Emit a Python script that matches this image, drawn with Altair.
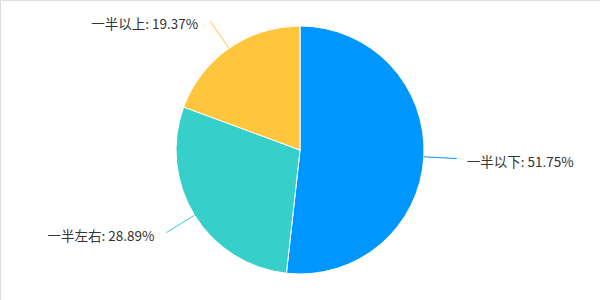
import math
import altair as alt
import pandas as pd

categories = ["一半以下", "一半左右", "一半以上"]
values = [51.75, 28.89, 19.37]
colors = ["#0096FF", "#36CFC9", "#FFC53D"]

W, H = 600, 300
CX, CY = W / 2, H / 2
R = 124
R_LINE = 157

total = sum(values)
rows = []
cum = 0.0
for i, (c, v) in enumerate(zip(categories, values)):
    mid = (cum + v / 2) / total * 2 * math.pi
    cum += v
    s, co = math.sin(mid), math.cos(mid)
    right = s >= 0
    rows.append({
        "cat": c, "value": v, "idx": i,
        "label": f"{c}: {v:.2f}%",
        "x0": CX + R * s, "y0": CY - R * co,
        "x1": CX + R_LINE * s, "y1": CY - R_LINE * co,
        "right": right,
    })
df = pd.DataFrame(rows)

color_scale = alt.Scale(domain=categories, range=colors)
xs = alt.Scale(domain=[0, W])
ys = alt.Scale(domain=[H, 0])

pie = alt.Chart(df).mark_arc(outerRadius=R, stroke="white", strokeWidth=1).encode(
    theta=alt.Theta("value:Q", stack=True),
    order=alt.Order("idx:Q"),
    color=alt.Color("cat:N", scale=color_scale, legend=None),
)

lines = alt.Chart(df).mark_rule(strokeWidth=1).encode(
    x=alt.X("x0:Q", scale=xs, axis=None),
    y=alt.Y("y0:Q", scale=ys, axis=None),
    x2="x1:Q", y2="y1:Q",
    color=alt.Color("cat:N", scale=color_scale, legend=None),
)

txt_common = dict(font="Noto Sans CJK SC", fontSize=13.5, color="#333333", baseline="middle", dy=4)
txt_right = alt.Chart(df).transform_filter("datum.right").mark_text(align="left", dx=10, **txt_common).encode(
    x=alt.X("x1:Q", scale=xs, axis=None),
    y=alt.Y("y1:Q", scale=ys, axis=None),
    text="label:N",
)
txt_left = alt.Chart(df).transform_filter("!datum.right").mark_text(align="right", dx=-12, **txt_common).encode(
    x=alt.X("x1:Q", scale=xs, axis=None),
    y=alt.Y("y1:Q", scale=ys, axis=None),
    text="label:N",
)

chart = alt.layer(pie, lines, txt_right, txt_left).properties(
    width=W, height=H, autosize=alt.AutoSizeParams(type="none"), padding=0
).configure_view(stroke=None).configure(background="white")

chart.save("out.html", embed_options={"renderer": "svg", "actions": False})
